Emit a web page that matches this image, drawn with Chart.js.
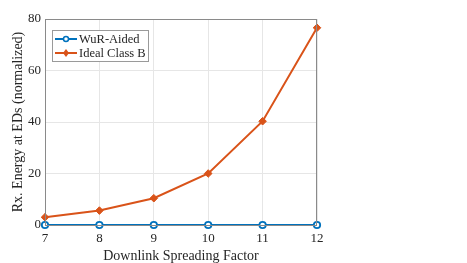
<!DOCTYPE html>
<html>
<head>
<meta charset="utf-8">
<script src="https://cdn.jsdelivr.net/npm/chart.js@4"></script>
<style>
  html, body { margin: 0; padding: 0; background: #fff; }
  #wrap { width: 467px; height: 263px; position: relative; }
</style>
</head>
<body>
<div id="wrap"><canvas id="chart"></canvas></div>
<script>
// data
const spreadingFactors = [7, 8, 9, 10, 11, 12];
const wurAided = [0, 0, 0, 0, 0, 0];
const idealClassB = [3.0, 5.6, 10.4, 20.0, 40.3, 76.6];
const yTicks = [0, 20, 40, 60, 80];

const BLUE = '#0072BD';
const ORANGE = '#D95319';
const AXIS = '#8a8a8a';
const FONT = "'Liberation Serif', 'Times New Roman', serif";

// MATLAB style box + legend inside the axes
const boxLegend = {
    id: 'boxLegend',
    afterDatasetsDraw(chart) {
        const { ctx, chartArea: a } = chart;
        ctx.save();
        // box around plot area
        ctx.strokeStyle = AXIS;
        ctx.lineWidth = 1;
        ctx.strokeRect(a.left + 0.5, a.top + 0.5, a.right - a.left - 1, a.bottom - a.top);

        // legend
        const lx = a.left + 7, ly = a.top + 11, lw = 96, lh = 31;
        ctx.fillStyle = '#fff';
        ctx.fillRect(lx, ly, lw, lh);
        ctx.strokeStyle = '#9a9a9a';
        ctx.lineWidth = 1;
        ctx.strokeRect(lx + 0.5, ly + 0.5, lw, lh);
        const items = [
            { label: 'WuR-Aided', color: BLUE, marker: 'circle' },
            { label: 'Ideal Class B', color: ORANGE, marker: 'diamond' }
        ];
        ctx.font = '12.5px ' + FONT;
        ctx.textBaseline = 'middle';
        items.forEach((it, i) => {
            const y = ly + 9 + i * 14;
            ctx.strokeStyle = it.color;
            ctx.lineWidth = 2;
            ctx.beginPath();
            ctx.moveTo(lx + 3, y);
            ctx.lineTo(lx + 25, y);
            ctx.stroke();
            const cx = lx + 14;
            ctx.beginPath();
            if (it.marker === 'circle') {
                ctx.lineWidth = 1.5;
                ctx.arc(cx, y, 2.5, 0, Math.PI * 2);
                ctx.fillStyle = '#fff';
                ctx.fill();
                ctx.stroke();
            } else {
                ctx.moveTo(cx, y - 4);
                ctx.lineTo(cx + 3, y);
                ctx.lineTo(cx, y + 4);
                ctx.lineTo(cx - 3, y);
                ctx.closePath();
                ctx.fillStyle = it.color;
                ctx.fill();
            }
            ctx.fillStyle = '#262626';
            ctx.fillText(it.label, lx + 27, y + 0.5);
        });
        ctx.restore();
    }
};

new Chart(document.getElementById('chart'), {
    type: 'line',
    data: {
        labels: spreadingFactors,
        datasets: [
            {
                label: 'WuR-Aided',
                data: wurAided,
                borderColor: BLUE,
                backgroundColor: '#fff',
                borderWidth: 2,
                pointStyle: 'circle',
                pointRadius: 3.2,
                pointBorderWidth: 1.8,
                pointBorderColor: BLUE,
                pointBackgroundColor: '#fff',
                clip: false
            },
            {
                label: 'Ideal Class B',
                data: idealClassB,
                borderColor: ORANGE,
                backgroundColor: ORANGE,
                borderWidth: 2,
                pointStyle: 'rectRot',
                pointRadius: 3.8,
                pointBorderWidth: 1,
                pointBackgroundColor: ORANGE,
                clip: false
            }
        ]
    },
    options: {
        responsive: true,
        maintainAspectRatio: false,
        animation: false,
        layout: { padding: { left: 0, right: 150, top: 19, bottom: 0 } },
        plugins: {
            legend: { display: false },
            tooltip: { enabled: false }
        },
        scales: {
            x: {
                type: 'linear',
                min: 7,
                max: 12,
                afterBuildTicks: axis => { axis.ticks = spreadingFactors.map(v => ({ value: v })); },
                afterFit: axis => { axis.height = 38; },
                grid: { color: '#e6e6e6', drawTicks: false },
                border: { color: AXIS, width: 1 },
                ticks: {
                    padding: 6,
                    color: '#262626',
                    font: { family: FONT, size: 13 }
                },
                title: {
                    display: true,
                    text: 'Downlink Spreading Factor',
                    color: '#262626',
                    padding: { top: 4, bottom: -2 },
                    font: { family: FONT, size: 14 }
                }
            },
            y: {
                min: 0,
                max: 80,
                afterBuildTicks: axis => { axis.ticks = yTicks.map(v => ({ value: v })); },
                afterFit: axis => { axis.width = 45; },
                grid: { color: '#e6e6e6', drawTicks: false },
                border: { color: AXIS, width: 1 },
                ticks: {
                    padding: 4,
                    color: '#262626',
                    font: { family: FONT, size: 13 }
                },
                title: {
                    display: true,
                    text: 'Rx. Energy at EDs (normalized)',
                    color: '#262626',
                    padding: { top: 10, bottom: 0 },
                    font: { family: FONT, size: 14 }
                }
            }
        }
    },
    plugins: [boxLegend]
});
</script>
</body>
</html>
